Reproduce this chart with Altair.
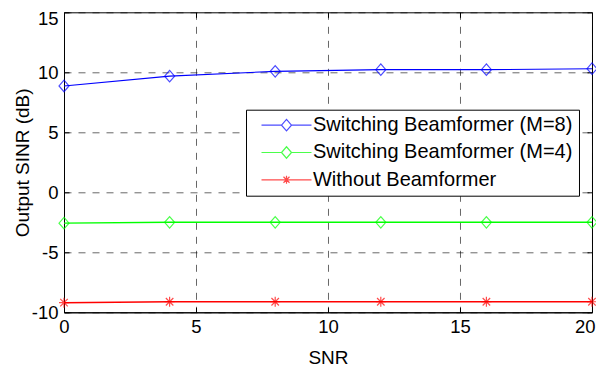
import altair as alt
import pandas as pd

# ---- data ----
snr = [0, 4, 8, 12, 16, 20]
m8 = [8.86, 9.68, 10.08, 10.22, 10.22, 10.3]
m4 = [-2.57, -2.5, -2.5, -2.5, -2.5, -2.5]
without = [-9.2, -9.12, -9.12, -9.12, -9.12, -9.12]
series = ["Switching Beamformer (M=8)", "Switching Beamformer (M=4)", "Without Beamformer"]
colors = ["#0000ff", "#00ff00", "#ff0000"]
widths = [1.1, 1.6, 1.1]
x_ticks = [0, 5, 10, 15, 20]
y_ticks = [-10, -5, 0, 5, 10, 15]

rows = []
for name, vals in zip(series, [m8, m4, without]):
    for s, v in zip(snr, vals):
        rows.append({"SNR": s, "SINR": v, "series": name})
df = pd.DataFrame(rows)

W, H = 528, 300
FONT = "Liberation Sans"

diamond = "M0,-1.15L1,0L0,1.15L-1,0Z"
star = "M0,-1L0,1M-0.75,-0.75L0.75,0.75M-0.75,0.75L0.75,-0.75M-1,0L1,0"
leg_diamond = "M-5,0L-1,0M1,0L5,0M0,-1.15L1,0L0,1.15L-1,0Z"
leg_star = "M-5,0L5,0M0,-0.8L0,0.8M-0.6,-0.6L0.6,0.6M-0.6,0.6L0.6,-0.6"

xscale = alt.Scale(domain=[0, 20], nice=False)
yscale = alt.Scale(domain=[-10, 15], nice=False)

x_axis = alt.Axis(values=x_ticks, title="SNR", grid=True, tickSize={"expr": "-5"},
                  labelPadding=10, labelFlush=False,
                  labelAlign={"condition": {"test": "datum.value == 20", "value": "right"},
                              "value": "center"},
                  labelOffset={"condition": {"test": "datum.value == 20", "value": 3},
                               "value": 0},
                  titleX=W / 2, titleY=45,
                  titleBaseline="middle", titleAlign="center")
y_axis = alt.Axis(values=y_ticks, title="Output SINR (dB)", grid=True,
                  tickSize={"expr": "-5"}, labelPadding=11, labelFlush=False,
                  labelExpr="toString(datum.value)",
                  labelOffset={"condition": {"test": "datum.value == 15", "value": 6},
                               "value": 0},
                  titleX=-42, titleY=H / 2,
                  titleAngle=270, titleBaseline="middle", titleAlign="center")

base = alt.Chart(df)

lines = base.mark_line().encode(
    x=alt.X("SNR:Q", scale=xscale, axis=x_axis),
    y=alt.Y("SINR:Q", scale=yscale, axis=y_axis),
    color=alt.Color("series:N", scale=alt.Scale(domain=series, range=colors), legend=None),
    strokeWidth=alt.StrokeWidth("series:N", scale=alt.Scale(domain=series, range=widths),
                                legend=None),
    detail="series:N",
)

points = base.mark_point(filled=False, strokeWidth=1.2, size=100).encode(
    x=alt.X("SNR:Q", scale=xscale, axis=None),
    y=alt.Y("SINR:Q", scale=yscale, axis=None),
    color=alt.Color("series:N", scale=alt.Scale(domain=series, range=colors), legend=None),
    shape=alt.Shape("series:N", scale=alt.Scale(domain=series, range=[diamond, diamond, star]),
                    legend=None),
)

legend_layer = base.transform_filter("false").mark_point(filled=False, strokeWidth=1.2).encode(
    x=alt.X("SNR:Q", scale=xscale,
            axis=alt.Axis(orient="top", values=x_ticks, labels=False, grid=False, domain=False,
                          title=None, tickSize={"expr": "-5"})),
    y=alt.Y("SINR:Q", scale=yscale,
            axis=alt.Axis(orient="right", values=y_ticks, labels=False, grid=False, domain=False,
                          title=None, tickSize={"expr": "-5"})),
    color=alt.Color("series:N", scale=alt.Scale(domain=series, range=colors),
                    legend=alt.Legend(title=None)),
    shape=alt.Shape("series:N",
                    scale=alt.Scale(domain=series, range=[leg_diamond, leg_diamond, leg_star]),
                    legend=alt.Legend(title=None)),
)

chart = alt.layer(lines, points, legend_layer).resolve_scale(
    color="independent", shape="independent"
).resolve_axis(
    x="independent", y="independent"
).properties(
    width=W, height=H,
    autosize=alt.AutoSizeParams(type="none"),
    padding={"left": 56, "top": 4.3, "right": 4, "bottom": 56},
).configure(
    font=FONT,
).configure_view(
    stroke="#000000", strokeWidth=1,
).configure_axis(
    labelFont=FONT, titleFont=FONT, labelFontSize=18.5, titleFontSize=19,
    labelColor="#000000", titleColor="#000000", titleFontWeight="normal",
    domainColor="#000000", tickColor="#000000", domainWidth=1, tickWidth=1,
    gridColor="#000000", gridOpacity=0.6, gridDash=[7, 7], gridWidth=1,
).configure_legend(
    orient="none", legendX=182, legendY=97.4,
    padding=5.5, rowPadding=7.3,
    strokeColor="#000000", fillColor="#ffffff", strokeWidth=1,
    labelFont=FONT, labelFontSize=20, labelColor="#000000", labelLimit=500,
    symbolSize=100, symbolStrokeWidth=1.2, symbolOffset=25, labelOffset=16.5,
    symbolFillColor="transparent",
)

chart.save("out.html", embed_options={"renderer": "svg", "actions": False})
